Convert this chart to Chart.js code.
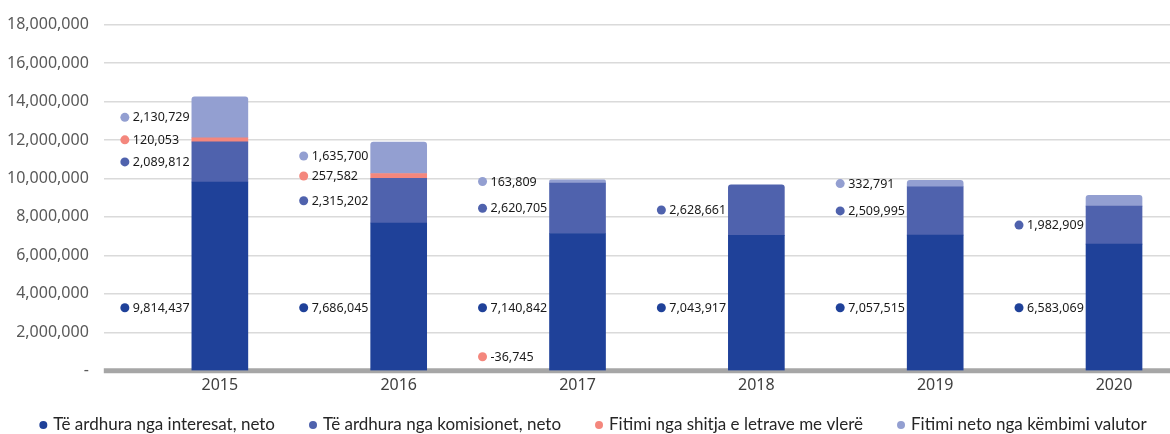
<!DOCTYPE html>
<html lang="sq">
<head>
<meta charset="UTF-8">
<title>Të ardhurat sipas viteve</title>
<script src="https://cdn.jsdelivr.net/npm/chart.js"></script>
<style>
    body { margin: 0; background: #ffffff; }
    .chart-box { width: 1170px; height: 434px; }
</style>
</head>
<body>
<div class="chart-box"><canvas id="incomeChart"></canvas></div>
<script>
    // Data
    var years = [2015, 2016, 2017, 2018, 2019, 2020];
    var interestNet = [9814437, 7686045, 7140842, 7043917, 7057515, 6583069];
    var commissionNet = [2089812, 2315202, 2620705, 2628661, 2509995, 1982909];
    var securitiesGain = [120053, 257582, -36745, null, null, null];
    var fxGain = [2130729, 1635700, 163809, null, 332791, 560000];
    // 2020 fx segment has no label in the source
    var fxLabelShown = [true, true, true, false, true, false];
    var yTicks = [0, 2000000, 4000000, 6000000, 8000000, 10000000, 12000000, 14000000, 16000000, 18000000];

    var seriesNames = ['Të ardhura nga interesat, neto', 'Të ardhura nga komisionet, neto',
        'Fitimi nga shitja e letrave me vlerë', 'Fitimi neto nga këmbimi valutor'];
    var colors = ['#1f4199', '#4f62ad', '#f4877d', '#939fd1'];

    function fmt(v) {
        return Math.round(v).toLocaleString('en-US');
    }

    // Thick grey base line under the bars
    var baseLine = {
        id: 'baseLine',
        beforeDatasetsDraw: function (chart) {
            var ctx = chart.ctx;
            var y0 = chart.scales.y.getPixelForValue(0);
            ctx.save();
            ctx.strokeStyle = '#a6a6a6';
            ctx.lineWidth = 5;
            ctx.beginPath();
            ctx.moveTo(chart.chartArea.left, y0);
            ctx.lineTo(chart.chartArea.right, y0);
            ctx.stroke();
            ctx.restore();
        }
    };

    // Draws the dot + value labels to the left of each bar
    var sideLabels = {
        id: 'sideLabels',
        afterDatasetsDraw: function (chart) {
            var ctx = chart.ctx;
            var base = chart.scales.y.getPixelForValue(0);
            ctx.save();
            ctx.font = '12.5px "Noto Sans"';
            ctx.textBaseline = 'middle';
            ctx.textAlign = 'left';
            for (var i = 0; i < years.length; i++) {
                var items = [];
                chart.data.datasets.forEach(function (ds, d) {
                    var v = ds.data[i];
                    if (v === null || v === undefined) return;
                    if (d === 3 && !fxLabelShown[i]) return;
                    var bar = chart.getDatasetMeta(d).data[i];
                    items.push({ d: d, v: v, x: bar.x, y: (bar.y + bar.base) / 2 });
                });
                // interest label sits near the bottom of the bar
                items.forEach(function (it) {
                    if (it.d === 0) it.y = base - 63;
                    if (it.y > base - 14) it.y = base - 14;
                });
                var rest = items.filter(function (it) { return it.d !== 0; });
                rest.sort(function (a, b) { return b.y - a.y; });
                for (var k = 1; k < rest.length; k++) {
                    if (rest[k].y > rest[k - 1].y - 20) rest[k].y = rest[k - 1].y - 20;
                }
                items.forEach(function (it) {
                    var dx = it.x - 95;
                    ctx.fillStyle = colors[it.d];
                    ctx.beginPath();
                    ctx.arc(dx, it.y, 4.5, 0, Math.PI * 2);
                    ctx.fill();
                    ctx.fillStyle = '#1a1a1a';
                    ctx.fillText(fmt(it.v), dx + 8, it.y + 0.5);
                });
            }
            ctx.restore();
        }
    };

    // Bottom legend: small dots, wide gaps between entries
    var bottomLegend = {
        id: 'bottomLegend',
        afterDraw: function (chart) {
            var ctx = chart.ctx;
            var y = chart.height - 9;
            var gap = 38, textOff = 10;
            ctx.save();
            ctx.font = '17px Lato';
            ctx.textBaseline = 'middle';
            ctx.textAlign = 'left';
            var widths = seriesNames.map(function (n) { return ctx.measureText(n).width; });
            var total = 0;
            widths.forEach(function (w, i) { total += textOff + w + (i < widths.length - 1 ? gap : 0); });
            var x = chart.width / 2 + 10 - total / 2;
            seriesNames.forEach(function (n, i) {
                ctx.fillStyle = colors[i];
                ctx.beginPath();
                ctx.arc(x, y, 4, 0, Math.PI * 2);
                ctx.fill();
                ctx.fillStyle = '#262626';
                ctx.fillText(n, x + textOff, y);
                x += textOff + widths[i] + gap;
            });
            ctx.restore();
        }
    };

    var seriesData = [interestNet, commissionNet, securitiesGain, fxGain];
    var datasets = seriesData.map(function (arr, d) {
        return {
            label: seriesNames[d],
            data: arr,
            backgroundColor: colors[d],
            barThickness: 56,
            minBarLength: d === 2 ? 4 : 0,
            borderRadius: 3,
            borderWidth: 0
        };
    });

    var ctx = document.getElementById('incomeChart').getContext('2d');
    var incomeChart = new Chart(ctx, {
        type: 'bar',
        data: { labels: years, datasets: datasets },
        options: {
            responsive: true,
            maintainAspectRatio: false,
            animation: false,
            layout: { padding: { top: 23, left: -8, right: 0, bottom: 34 } },
            plugins: {
                tooltip: { enabled: false },
                legend: { display: false }
            },
            scales: {
                x: {
                    type: 'linear',
                    stacked: true,
                    offset: false,
                    min: 2014.351,
                    max: 2020.313,
                    grid: { display: false, drawTicks: false },
                    border: { display: false },
                    afterBuildTicks: function (scale) {
                        scale.ticks = years.map(function (y) { return { value: y }; });
                    },
                    ticks: {
                        padding: 5,
                        color: '#404040',
                        font: { family: 'Noto Sans', size: 16 },
                        callback: function (v) { return String(v); }
                    }
                },
                y: {
                    stacked: true,
                    min: 0,
                    max: 18000000,
                    border: { display: false },
                    afterBuildTicks: function (scale) {
                        scale.ticks = yTicks.map(function (v) { return { value: v }; });
                    },
                    grid: {
                        drawTicks: false,
                        color: function (c) { return c.tick && c.tick.value === 0 ? 'rgba(0,0,0,0)' : '#dadada'; },
                        lineWidth: 1.5
                    },
                    ticks: {
                        padding: 15,
                        color: '#595959',
                        font: { family: 'Noto Sans', size: 16 },
                        callback: function (v) { return v === 0 ? '-' : fmt(v); }
                    }
                }
            }
        },
        plugins: [baseLine, sideLabels, bottomLegend]
    });
</script>
</body>
</html>
